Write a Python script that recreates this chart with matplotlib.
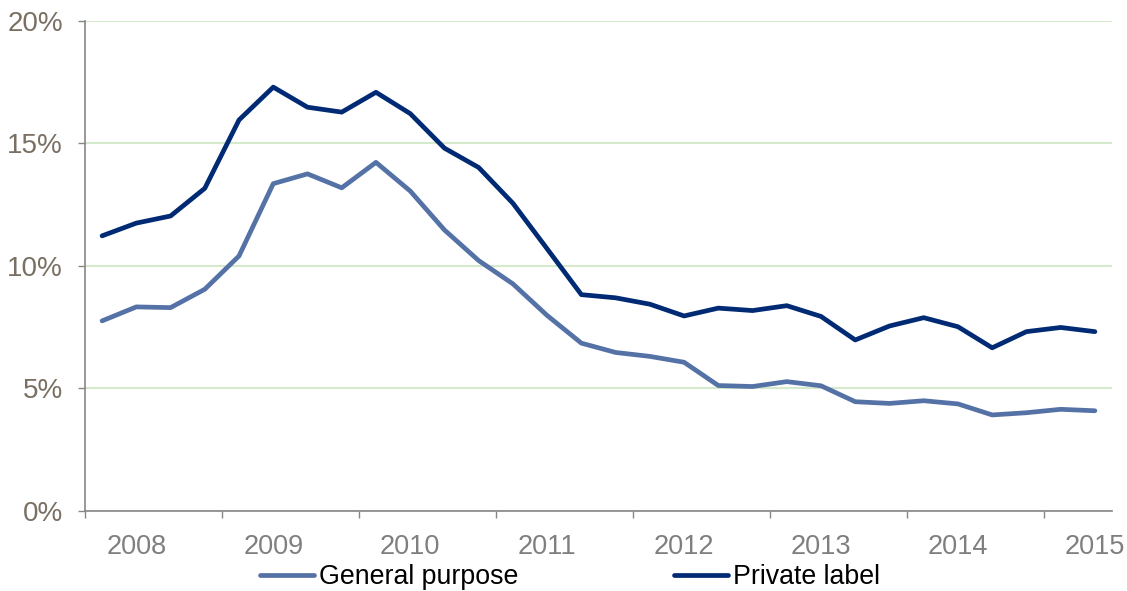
import matplotlib
matplotlib.use("Agg")
import matplotlib.pyplot as plt
import numpy as np
from matplotlib.ticker import FixedLocator, NullFormatter

plt.rcParams['font.family'] = ['Liberation Sans', 'DejaVu Sans']

# quarterly values (%), 30 quarters
general_purpose = [7.76, 8.33, 8.30, 9.05, 10.41, 13.36, 13.76, 13.19, 14.23, 13.06,
                   11.47, 10.22, 9.27, 7.98, 6.85, 6.47, 6.31, 6.07, 5.12, 5.08,
                   5.28, 5.11, 4.46, 4.39, 4.50, 4.37, 3.92, 4.01, 4.15, 4.09]
private_label = [11.23, 11.75, 12.04, 13.17, 15.96, 17.30, 16.48, 16.28, 17.09, 16.22,
                 14.81, 14.02, 12.56, 10.70, 8.83, 8.70, 8.44, 7.96, 8.28, 8.18,
                 8.38, 7.94, 6.98, 7.55, 7.89, 7.52, 6.66, 7.32, 7.49, 7.32]
year_labels = ["2008", "2009", "2010", "2011", "2012", "2013", "2014", "2015"]

x = np.arange(len(general_purpose))

fig = plt.figure(figsize=(11.27, 5.91), dpi=100)
ax = fig.add_axes([0.0754, 0.1354, 0.9113, 0.8291])

ax.plot(x, general_purpose, color='#5572a7', linewidth=3.4, label='General purpose',
        solid_joinstyle='round', solid_capstyle='round')
ax.plot(x, private_label, color='#002a74', linewidth=3.4, label='Private label',
        solid_joinstyle='round', solid_capstyle='round')

ax.set_xlim(-0.5, len(x) - 0.5)
ax.set_ylim(0, 20)

# y axis
ax.set_yticks([0, 5, 10, 15, 20])
ax.set_yticklabels([f"{v}%" for v in [0, 5, 10, 15, 20]])
ax.tick_params(axis='y', length=5, width=1, color='#868686', pad=11,
               labelsize=20, labelcolor='#7a6f63')
ax.grid(axis='y', color='#d5eacd', linewidth=1.5)
ax.set_axisbelow(True)

# x axis: tick marks between years, labels at every 4th quarter
ax.xaxis.set_major_locator(FixedLocator(np.arange(-0.5, len(x), 4)))
ax.xaxis.set_major_formatter(NullFormatter())
ax.xaxis.set_minor_locator(FixedLocator(np.arange(1, len(x), 4)))
ax.set_xticklabels(year_labels, minor=True)
ax.tick_params(axis='x', which='major', length=5, width=1, color='#868686')
ax.tick_params(axis='x', which='minor', length=0, pad=16.5, labelsize=19.5, labelcolor='#7f7f7f')

for s in ['top', 'right']:
    ax.spines[s].set_visible(False)
for s in ['left', 'bottom']:
    ax.spines[s].set_color('#868686')
    ax.spines[s].set_linewidth(1.2)

fig.legend(loc='lower center', bbox_to_anchor=(0.506, -0.039), ncol=2, frameon=False,
           fontsize=19.3, handlelength=2.0, handletextpad=0.2, columnspacing=5.8)

fig.savefig('out.png', dpi=100)
